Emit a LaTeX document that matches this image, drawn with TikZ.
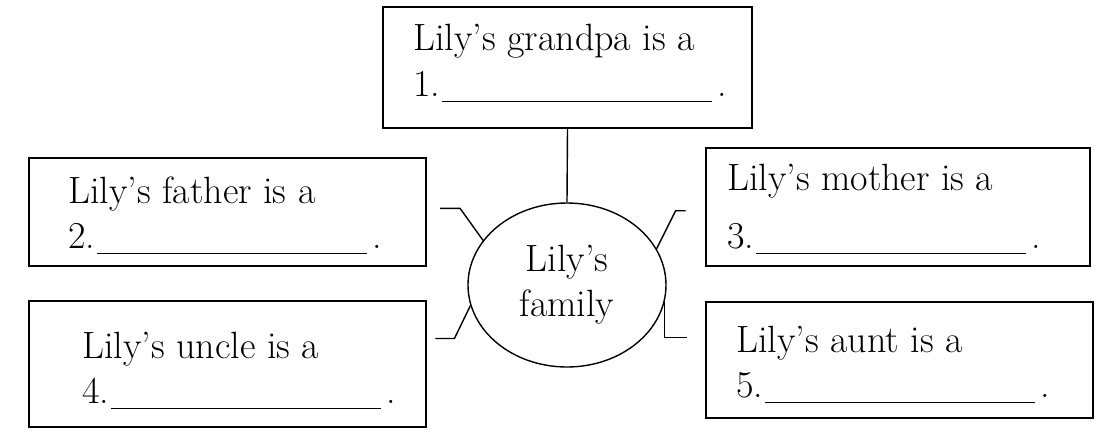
\documentclass[tikz,border=0pt]{standalone}
\usepackage{tikz}
\usetikzlibrary{shapes.geometric}
\newcommand{\blankline}{\kern1pt\rule[-3pt]{135pt}{0.5pt}\kern2.5pt.}

\begin{document}
\begin{tikzpicture}[x=0.5pt, y=-0.5pt,
    box/.style={draw, line width=0.9pt, inner sep=0pt},
    txt/.style={anchor=base west, inner sep=0pt, font=\fontsize{19}{22.5}\selectfont},
    link/.style={line width=0.7pt}]
    \useasboundingbox (0,0) rectangle (1105,435);

    % boxes
    \node[box, minimum width=184.5pt, minimum height=60.5pt] (G) at (567.5,67.5) {};
    \node[box, minimum width=198.5pt, minimum height=54pt] (F) at (227.5,212) {};
    \node[box, minimum width=198.5pt, minimum height=63pt] (U) at (227.5,364) {};
    \node[box, minimum width=192pt, minimum height=59pt] (M) at (898,207) {};
    \node[box, minimum width=193.5pt, minimum height=58pt] (A) at (899.5,360) {};

    % texts
    \node[txt] (G1) at (413,50) {Lily's grandpa is a};
    \node[txt] (G2) at (413,96) {1.\blankline};
    \node[txt] (F1) at (68,203) {Lily's father is a};
    \node[txt] (F2) at (68,248) {2.\blankline};
    \node[txt] (U1) at (82,358) {Lily's uncle is a};
    \node[txt] (U2) at (82,403) {4.\blankline};
    \node[txt] (M1) at (727,190) {Lily's mother is a};
    \node[txt] (M2) at (727,248) {3.\blankline};
    \node[txt] (A1) at (736,352) {Lily's aunt is a};
    \node[txt] (A2) at (736,397) {5.\blankline};

    % centre
    \node[ellipse, draw, link, minimum width=99pt, minimum height=82pt, inner sep=0pt,
        align=center, font=\fontsize{19}{22.5}\selectfont] (L) at (567,285) {Lily's\\family};

    \draw[link] (G.south) -- (L.north);
    \draw[link] (L.152) -- ++(-23,-32) -- ++(-20,0) coordinate (Fe);
    \draw[link] (L.-168) -- ++(-16,33) -- ++(-19,0) coordinate (Ue);
    \draw[link] (L.22) -- ++(19,-38) -- ++(10,0) coordinate (Me);
    \draw[link] (L.-10) -- ++(0,35) -- ++(22,0) coordinate (Ae);
\end{tikzpicture}
\end{document}
